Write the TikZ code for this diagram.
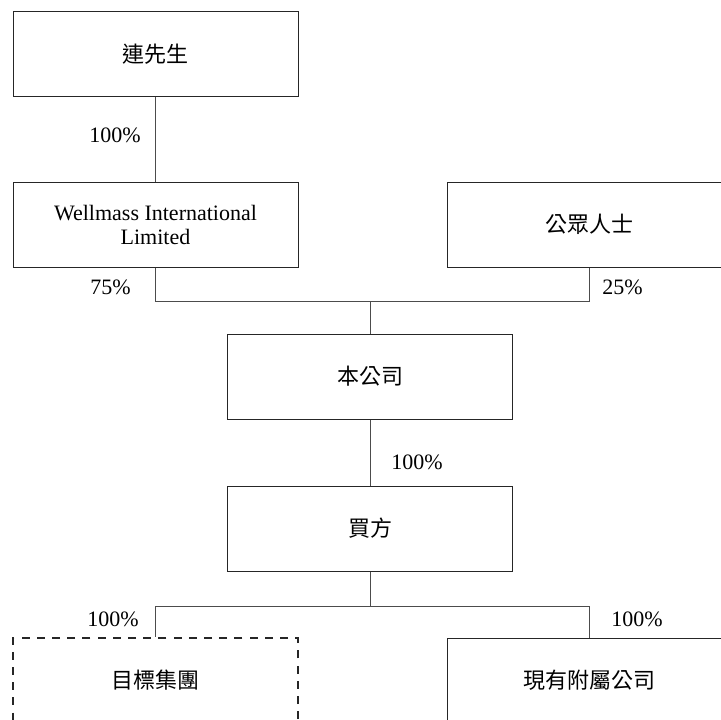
\documentclass[tikz,border=0pt]{standalone}
\usepackage{fontspec}
\setmainfont{Liberation Serif}
\newfontfamily\cjk{Noto Sans CJK TC}
\begin{document}
\begin{tikzpicture}[x=0.5pt,y=-0.5pt,
  box/.style={draw=black!85,line width=0.5pt,minimum width=142.5pt,minimum height=42.5pt,inner sep=0pt,align=center,font=\fontsize{11}{12}\selectfont},
  dbox/.style={box,dash pattern=on 4pt off 3.6pt,line width=0.65pt},
  pct/.style={inner sep=0pt,font=\fontsize{11}{12}\selectfont},
  link/.style={draw=black!70,line width=0.5pt}]
\clip (0,0) rectangle (721,719);
\useasboundingbox (0,0) rectangle (721,719);
\node[box] (lian) at (155.5,54) {\cjk 連先生};
\node[box] (wim) at (155.5,224.5) {Wellmass International\\Limited};
\node[box] (pub) at (589.5,224.5) {\cjk 公眾人士};
\node[box] (co) at (370,376.5) {\cjk 本公司};
\node[box] (buy) at (370,528.5) {\cjk 買方};
\node[dbox] (tgt) at (155.5,680.5) {\cjk 目標集團};
\node[box] (sub) at (589.5,680.5) {\cjk 現有附屬公司};
\coordinate (j1) at (370,301);
\coordinate (j2) at (370,606);
\draw[link] (lian) -- (wim);
\draw[link] (wim.south) |- (j1) -| (pub.south);
\draw[link] (j1) -- (co.north);
\draw[link] (co) -- (buy);
\draw[link] (buy.south) -- (j2);
\draw[link] (j2) -| (tgt.north);
\draw[link] (j2) -| (sub.north);
\node[pct,anchor=east] (p1) at (141,135) {100\%};
\node[pct,anchor=east] (p2) at (131,287) {75\%};
\node[pct,anchor=west] (p3) at (602,287) {25\%};
\node[pct,anchor=west] (p4) at (391,462) {100\%};
\node[pct,anchor=east] (p5) at (139,619) {100\%};
\node[pct,anchor=west] (p6) at (611,619) {100\%};
\end{tikzpicture}
\end{document}
